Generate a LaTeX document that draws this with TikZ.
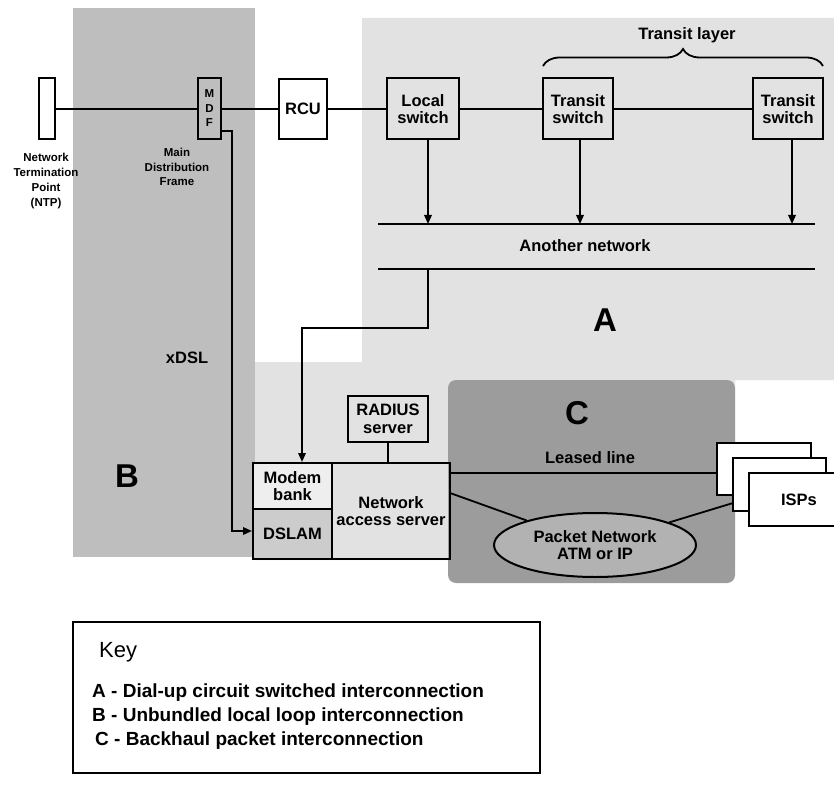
\documentclass[tikz,border=0pt]{standalone}
\usepackage{fontspec}
\setmainfont{Liberation Sans}
\usetikzlibrary{arrows.meta,shapes.geometric,decorations.pathreplacing}
\definecolor{regA}{HTML}{E2E2E2}
\definecolor{regB}{HTML}{BEBEBE}
\definecolor{regC}{HTML}{9C9C9C}
\definecolor{pktfill}{HTML}{B2B2B2}
\newcommand\mylbl{\fontsize{16.5}{17.5}\selectfont\bfseries}
\newcommand\mysmall{\fontsize{11.5}{14.7}\selectfont\bfseries}
\newcommand\mykeyitem{\fontsize{19}{23}\selectfont\bfseries}
\newcommand\mybig{\fontsize{33}{36}\selectfont\bfseries}
\begin{document}
\begin{tikzpicture}[x=1pt,y=-1pt,
  box/.style={draw, line width=2pt, inner sep=0pt, font=\mylbl, align=center},
  conn/.style={line width=1.8pt},
  arr/.style={line width=1.8pt, -{Triangle[length=9pt,width=7.5pt]}},
  txt/.style={inner sep=0pt, align=center},
  bigletter/.style={inner sep=0pt, font=\mybig}]
\useasboundingbox (0,0) rectangle (834,799);
\clip (0,0) rectangle (834,799);
% shaded regions
\fill[regA] (362,18) -- (834,18) -- (834,380) -- (735,380) -- (735,560) -- (255,560) -- (255,362) -- (362,362) -- cycle;
\fill[regB] (73,8) rectangle (255,557);
\fill[regC, rounded corners=8pt] (448,380) rectangle (735,583);
% top row
\node[box, fill=white, minimum width=16pt, minimum height=61pt] (ntp) at (47,109) {};
\node[box, minimum width=23pt, minimum height=61pt] (mdf) at (209.5,109) {};
\node[txt, font=\mysmall] (mdfM) at (209.5,94) {M};
\node[txt, font=\mysmall] (mdfD) at (209.5,108.5) {D};
\node[txt, font=\mysmall] (mdfF) at (209.5,123) {F};
\node[box, fill=white, minimum width=48pt, minimum height=60pt] (rcu) at (303,109) {RCU};
\node[box, minimum width=72pt, minimum height=61pt] (local) at (423,109) {Local\\switch};
\node[box, minimum width=70pt, minimum height=61pt] (tr1) at (578,109) {Transit\\switch};
\node[box, minimum width=70pt, minimum height=61pt] (tr2) at (788,109) {Transit\\switch};
\node[txt, font=\mysmall] (ntplbl) at (46,181) {Network\\Termination\\Point\\(NTP)};
\node[txt, font=\mysmall] (mdflbl) at (177,167) {Main\\Distribution\\Frame};
\draw[conn] (ntp) -- (mdf);
\draw[conn] (mdf) -- (rcu);
\draw[conn] (rcu) -- (local);
\draw[conn] (local) -- (tr1);
\draw[conn] (tr1) -- (tr2);
% transit layer brace
\draw[decorate, decoration={brace, amplitude=17pt}, line width=1.8pt] (543,66) -- (823,66);
\node[txt, font=\mylbl] (tlayer) at (687,35) {Transit layer};
% another network
\coordinate (anTL) at (378,224);
\coordinate (anTR) at (815,224);
\coordinate (anBL) at (378,269);
\coordinate (anBR) at (815,269);
\draw[conn] (anTL) -- (anTR);
\draw[conn] (anBL) -- (anBR);
\node[txt, font=\mylbl] (another) at (585,246) {Another network};
\coordinate (aLoc) at (428,224);
\coordinate (aTr1) at (580,224);
\coordinate (aTr2) at (792,224);
\draw[arr] (aLoc |- local.south) -- (aLoc);
\draw[arr] (aTr1 |- tr1.south) -- (aTr1);
\draw[arr] (aTr2 |- tr2.south) -- (aTr2);
% big letters
\node[bigletter] (letA) at (605,320) {A};
\node[bigletter] (letB) at (127,476) {B};
\node[bigletter] (letC) at (577,413) {C};
\node[txt, font=\mylbl] (xdsl) at (187,358) {xDSL};
% access equipment
\node[box, fill=white!40!regA, minimum width=79pt, minimum height=46pt] (modem) at (292.5,486) {Modem\\bank};
\node[box, fill=regB!60!regA, minimum width=79pt, minimum height=50pt] (dslam) at (292.5,534) {DSLAM};
\node[box, minimum width=118pt, minimum height=96pt] (nas) at (391,511) {Network\\access server};
\node[box, minimum width=80pt, minimum height=46pt] (radius) at (388,419) {RADIUS\\server};
\draw[conn] (radius) -- (radius.south |- nas.north);
% feeds
\coordinate (anOut) at (428,269);
\coordinate (mbBend) at (302,328);
\draw[arr] (anOut) |- (mbBend) -- (mbBend |- modem.north);
\coordinate (mdfOut) at (221,131);
\coordinate (dBend) at (232,531);
\draw[arr] (mdfOut) -| (dBend) -- (dBend -| dslam.west);
% ISPs
\node[box, fill=white, minimum width=94pt, minimum height=52pt] (isp1) at (764,469) {};
\node[box, fill=white, minimum width=93pt, minimum height=53pt] (isp2) at (779.5,484.5) {};
\node[box, fill=white, minimum width=100pt, minimum height=53pt] (isp3) at (799,499.5) {ISPs};
% packet network
\node[draw, ellipse, line width=2pt, fill=pktfill, minimum width=202pt, minimum height=64pt, inner sep=0pt, font=\mylbl, align=center] (pkt) at (595,545) {Packet Network\\ATM or IP};
\coordinate (llStart) at (450,473);
\draw[conn] (llStart) -- (llStart -| isp1.west);
\node[txt, font=\mylbl] (leased) at (590,458) {Leased line};
\coordinate (nasPkt) at (450,493);
\draw[conn] (nasPkt) -- (pkt);
\coordinate (ispPkt) at (733,503);
\draw[conn] (pkt) -- (ispPkt);
% key
\node[draw, line width=1.6pt, minimum width=467pt, minimum height=151pt, inner sep=0pt] (keybox) at (306.5,697.5) {};
\node[inner sep=0pt, anchor=base west, font=\fontsize{22}{26}\selectfont] (keyt) at (99,657) {Key};
\node[inner sep=0pt, anchor=base west, font=\mykeyitem] (keyA) at (92,697) {A - Dial-up circuit switched interconnection};
\node[inner sep=0pt, anchor=base west, font=\mykeyitem] (keyB) at (92,721) {B - Unbundled local loop interconnection};
\node[inner sep=0pt, anchor=base west, font=\mykeyitem] (keyC) at (95,745) {C - Backhaul packet interconnection};
\end{tikzpicture}
\end{document}
